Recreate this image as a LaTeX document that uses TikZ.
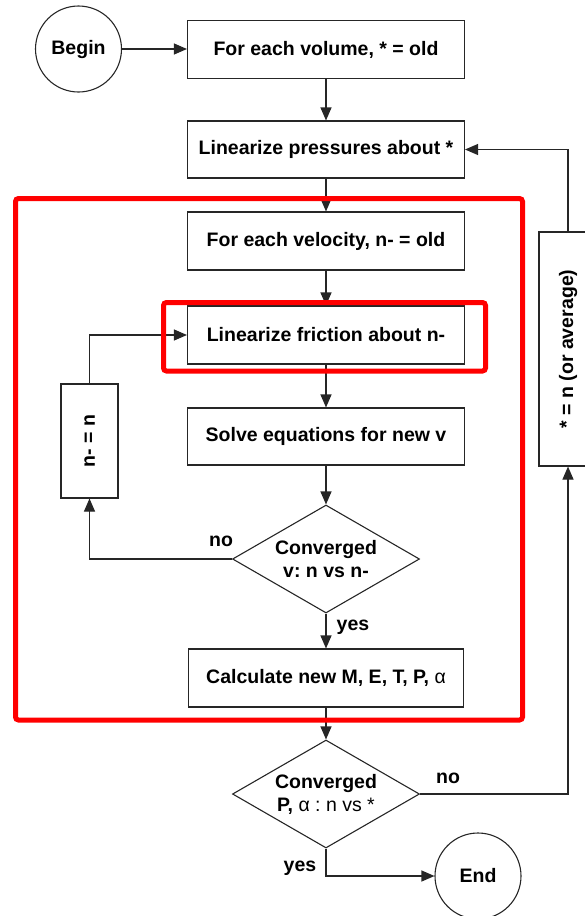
\documentclass[tikz,border=0pt]{standalone}
\usepackage{fontspec}
\setmainfont{Liberation Sans}
\usetikzlibrary{shapes.geometric,arrows.meta}

\begin{document}
\frenchspacing
\begin{tikzpicture}[x=1pt,y=-1pt,
  line/.style={draw=black!85, line width=1.1pt},
  arr/.style={draw=black!85, line width=1.1pt, -{Triangle[length=13pt,width=11pt]}},
  txt/.style={font=\bfseries\fontsize{19.5}{23}\selectfont},
  stepbox/.style={line, rectangle, txt, minimum width=277pt, minimum height=58pt, inner sep=0pt},
  endpoint/.style={line, circle, txt, minimum size=86pt, inner sep=0pt},
  test/.style={line, diamond, txt, align=center, minimum width=187pt, minimum height=108pt,
               aspect=1.73, inner sep=0pt},
  sidebox/.style={line, rectangle, inner sep=0pt},
  tag/.style={txt, inner sep=0pt},
  highlight/.style={draw=red, line width=5pt, rounded corners=3pt}
]
\useasboundingbox (0,0) rectangle (585,916);
\clip (0,0) rectangle (585,916);

% main column
\node[endpoint] (begin) at (78.5,49) {Begin};
\node[stepbox] (box1) at (326,49.5) {For each volume, * = old};
\node[stepbox, minimum height=57pt] (box2) at (326,149.5) {Linearize pressures about *};
\node[stepbox] (box3) at (326,241) {For each velocity, n- = old};
\node[stepbox] (box4) at (326,335) {Linearize friction about n-};
\node[stepbox, minimum height=57pt] (box5) at (326,436.5) {Solve equations for new v};
\node[test] (dia1) at (326,559) {Converged\\v: n vs n-};
\node[stepbox, minimum width=275pt] (box6) at (326,678) {Calculate new M, E, T, P, {\mdseries α}};
\node[test] (dia2) at (326,794) {Converged\\P, {\mdseries α : n vs *}};
\node[endpoint] (end) at (478,876) {End};

% side boxes with vertical text
\node[sidebox, minimum width=57pt, minimum height=114pt] (nbox) at (89.5,441) {};
\node[tag, rotate=90] (nboxtext) at (nbox.center) {n- = n};
\node[sidebox, minimum width=58pt, minimum height=234pt] (rbox) at (568,349) {};
\node[tag, rotate=90] (rboxtext) at (rbox.center) {* = n (or average)};

% connectors
\draw[arr] (begin.east) -- (begin.east -| box1.west);
\draw[arr] (box1) -- (box2);
\draw[arr] (box2) -- (box3);
\draw[arr] (box3) -- (box4);
\draw[arr] (box4) -- (box5);
\draw[arr] (box5) -- (dia1);
\draw[arr] (dia1) -- (box6);
\draw[arr] (box6) -- (dia2);
\draw[arr] (dia2.south) |- (end.west);
\draw[arr] (dia1.west) -| (nbox.south);
\draw[arr] (nbox.north) |- (box4.west);
\draw[arr] (dia2.east) -| (rbox.south);
\draw[arr] (rbox.north) |- (box2.east);

% branch labels
\node[tag] (no1) at (221,541) {no};
\node[tag] (yes1) at (353,627) {yes};
\node[tag] (no2) at (448,778) {no};
\node[tag] (yes2) at (300,868) {yes};

% highlight frames
\draw[highlight] (15.5,198.5) rectangle (522.5,720);
\draw[highlight] (163.5,302.5) rectangle (485.5,371);
\end{tikzpicture}
\end{document}
